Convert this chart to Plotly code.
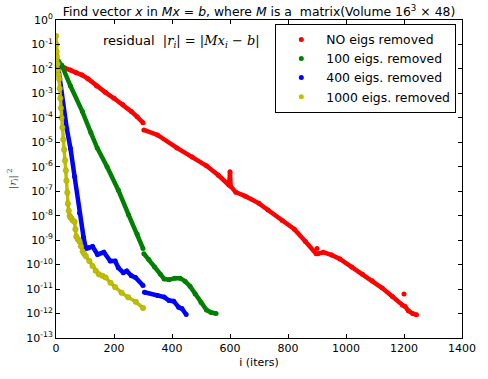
import plotly.graph_objects as go

# ---------------- data ----------------
# None separates line segments (restart at iteration 300, isolated spikes)
red_iter = [0, 5, 15, 30, 50, 70, 90, 110, 140, 170, 200, 230, 260, 280, 300, None,
            303, 350, 417, 470, 519, 560, 596, 598, 600, 602, 620, 653, 700, 731, 780, 822, 860, 897, None,
            900, None,
            903, 922, 950, 979, 1020, 1057, 1090, 1125, 1160, 1195, None,
            1200, None,
            1203, 1215, 1230, 1243]
red_res = [1.9e-2, 1.6e-2, 1.3e-2, 1.1e-2, 9.0e-3, 7.0e-3, 5.6e-3, 4.0e-3, 2.0e-3, 1.1e-3, 6.3e-4, 3.5e-4, 1.8e-4, 1.1e-4, 6.3e-5, None,
           3.2e-5, 2.0e-5, 5.9e-6, 2.5e-6, 1.1e-6, 4.5e-7, 1.8e-7, 2.5e-7, 6.3e-7, 1.6e-7, 9.1e-8, 6.3e-8, 3.2e-8, 1.7e-8, 6.3e-9, 2.8e-9, 8.9e-10, 2.8e-10, None,
           4.6e-10, None,
           2.8e-10, 3.2e-10, 2.5e-10, 1.7e-10, 7.9e-11, 4.0e-11, 2.2e-11, 1.1e-11, 5.0e-12, 2.2e-12, None,
           6.3e-12, None,
           2.0e-12, 1.3e-12, 1.0e-12, 8.9e-13]

green_iter = [0, 10, 20, 50, 91, 120, 142, 176, 215, 250, 280, 300, None,
              303, 320, 340, 360, 373, 390, 410, 428, 445, 462, 480, 500, 519, 535, 552]
green_res = [2.5e-2, 2.0e-2, 1.4e-2, 2.0e-3, 1.8e-4, 2.5e-5, 5.9e-6, 1.0e-6, 1.1e-7, 1.1e-8, 1.8e-9, 4.6e-10, None,
             2.8e-10, 1.6e-10, 7.9e-11, 4.0e-11, 2.6e-11, 2.4e-11, 2.8e-11, 2.8e-11, 2.1e-11, 1.3e-11, 6.3e-12, 2.8e-12, 1.4e-12, 1.1e-12, 1.0e-12]

blue_iter = [0, 5, 13, 37, 50, 64, 81, 95, 103, 112, 126, 143, 165, 187, 204, 215, 232, 244, 260, 274, 300, None,
             305, 350, 373, 390, 406, 423, 434, 449]
blue_res = [5.0e-2, 1.6e-2, 4.0e-3, 3.7e-5, 5.6e-6, 4.0e-7, 1.3e-8, 1.3e-9, 4.6e-10, 4.8e-10, 5.5e-10, 2.6e-10, 3.2e-10, 1.4e-10, 1.4e-10, 7.4e-11, 4.7e-11, 5.5e-11, 3.5e-11, 3.0e-11, 1.4e-11, None,
            7.4e-12, 5.4e-12, 4.7e-12, 3.4e-12, 3.2e-12, 1.8e-12, 1.6e-12, 9.1e-13]

yellow_iter = [0, 1, 2, 3, 5, 7, 9, 11, 13, 15, 17, 19, 22, 25, 28, 31, 34, 36, 39, 41, 44, 47, 50, 53, 58, 64, 67, 70, 75, 81, 86, 92, 97, 103, 115, 126, 137, 148, 160, 171, 188, 204, 226, 249, 275, 300]
yellow_res = [2.2e-1, 1.0e-1, 5.0e-2, 3.2e-2, 1.6e-2, 8.9e-3, 5.6e-3, 3.9e-3, 1.6e-3, 6.3e-4, 2.5e-4, 1.0e-4, 4.0e-5, 1.3e-5, 5.0e-6, 1.8e-6, 7.1e-7, 2.7e-7, 8.9e-8, 3.1e-8, 1.6e-8, 1.0e-8, 8.5e-9, 7.8e-9, 6.3e-9, 5.6e-9, 2.8e-9, 1.4e-9, 1.1e-9, 8.9e-10, 5.6e-10, 3.5e-10, 2.8e-10, 2.2e-10, 1.4e-10, 8.7e-11, 5.6e-11, 4.0e-11, 3.5e-11, 3.0e-11, 1.8e-11, 1.2e-11, 7.1e-12, 4.6e-12, 3.0e-12, 1.7e-12]

series_names = ["NO eigs removed", "100 eigs. removed", "400 eigs. removed", "1000 eigs. removed"]
series_colors = ["#ff0000", "#008000", "#0000ff", "#bfbf00"]

y_exponents = list(range(0, -14, -1))
x_ticks = [0, 200, 400, 600, 800, 1000, 1200, 1400]

# ---------------- figure ----------------
fig = go.Figure()
all_x = [red_iter, green_iter, blue_iter, yellow_iter]
all_y = [red_res, green_res, blue_res, yellow_res]
for xs, ys, nm, col in zip(all_x, all_y, series_names, series_colors):
    is_y = col == "#bfbf00"
    fig.add_trace(go.Scatter(
        x=xs, y=ys, mode="lines+markers", name=nm, showlegend=False,
        connectgaps=False,
        line=dict(color=col, width=3.5 if is_y else 4.5),
        marker=dict(color=col, size=5.5 if is_y else 5,
                    line=dict(width=0.5 if is_y else 0, color="#a5a500")),
    ))
# legend entries (markers only, like the reference)
for nm, col in zip(series_names, series_colors):
    fig.add_trace(go.Scatter(x=[None], y=[None], mode="markers", name=nm,
                             marker=dict(color=col, size=5)))

fig.update_layout(
    width=488, height=379,
    margin=dict(l=56, r=16, t=20, b=36),
    paper_bgcolor="white", plot_bgcolor="white",
    font=dict(family="DejaVu Sans", size=11, color="black"),
    title=dict(
        text="Find vector <i>x</i> in <i>Mx</i> = <i>b</i>, where <i>M</i> is a  matrix(Volume 16<sup>3</sup> × 48)",
        x=0.5, xref="paper", xanchor="center", y=1 - 12 / 379, yanchor="middle",
        font=dict(size=12.4, family="DejaVu Sans")),
    showlegend=True,
    legend=dict(x=0.986, y=0.988, xanchor="right", yanchor="top",
                bgcolor="white", bordercolor="black", borderwidth=1,
                font=dict(size=12.4, family="DejaVu Sans"),
                itemwidth=40, tracegroupgap=0),
    xaxis=dict(range=[0, 1400], tickvals=x_ticks, ticktext=[str(v) for v in x_ticks],
               showgrid=False, zeroline=False, showline=True, linecolor="black", linewidth=1,
               mirror="ticks", ticks="inside", ticklen=4, tickcolor="black",
               title=dict(text="i (iters)", font=dict(size=11), standoff=4)),
    yaxis=dict(type="log", range=[-13, 0],
               tickvals=[10.0 ** e for e in y_exponents],
               ticktext=["10<sup>%d</sup>" % e for e in y_exponents],
               showgrid=False, zeroline=False, showline=True, linecolor="black", linewidth=1,
               mirror="ticks", ticks="inside", ticklen=4, tickcolor="black"),
    annotations=[
        dict(text="residual  <span style='font-family:DejaVu Serif'>|<i>r<sub>i</sub></i>| = |<i>Mx<sub>i</sub></i> − <i>b</i>|</span>",
             xref="paper", yref="paper", x=0.31, y=0.932, xanchor="center", yanchor="middle",
             showarrow=False, font=dict(size=13)),
        dict(text="|<i>r<sub>i</sub></i>|<sup> 2</sup>", xref="paper", yref="paper",
             x=-0.106, y=0.5, xanchor="center", yanchor="middle", textangle=-90,
             showarrow=False, font=dict(size=10, family="DejaVu Serif", color="#444")),
    ],
)

fig.write_html("out.html")
